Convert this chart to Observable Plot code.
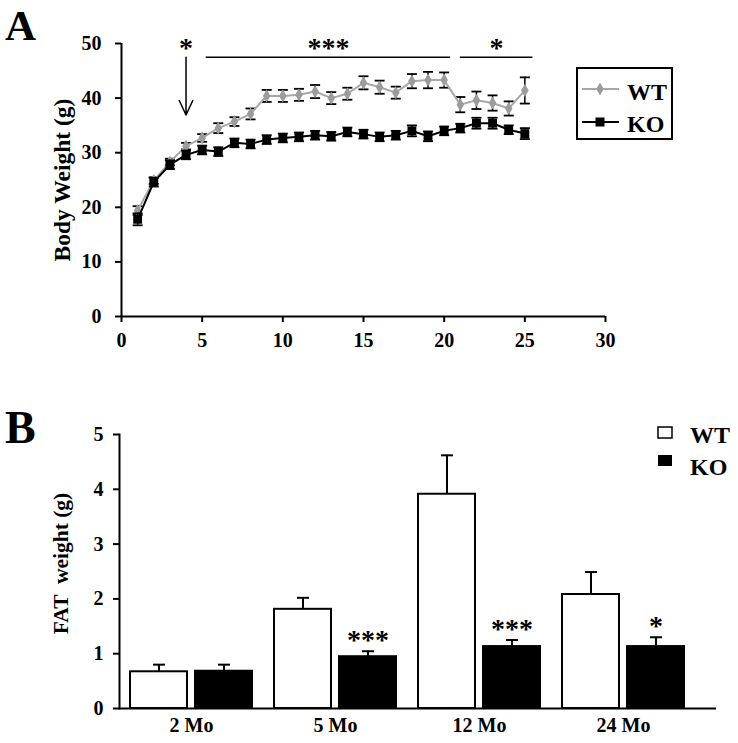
<!DOCTYPE html>
<html><head><meta charset="utf-8">
<script src="https://cdn.jsdelivr.net/npm/d3@7"></script>
<script src="https://cdn.jsdelivr.net/npm/@observablehq/plot@0.6"></script>
<style>
body{margin:0;background:#fff;}
#wrap{position:relative;width:738px;height:743px;overflow:hidden;}
#wrap > svg{position:absolute;left:0;}
#overlay{position:absolute;left:0;top:0;pointer-events:none;}
</style></head><body><div id="wrap"></div>
<script>
// ---------- Panel A data ----------
const weeks  = [1,2,3,4,5,6,7,8,9,10,11,12,13,14,15,16,17,18,19,20,21,22,23,24,25];
const wtMean = [19.4,24.9,28.3,31.2,32.7,34.5,35.7,37.1,40.4,40.4,40.6,41.2,40.0,40.8,42.8,42.0,41.0,43.1,43.3,43.3,38.8,39.6,39.1,38.1,41.4];
const wtErr  = [0.8,0.6,0.6,0.6,0.7,0.9,0.8,1.0,1.1,1.1,1.1,1.2,1.1,1.1,1.2,1.2,1.1,1.3,1.5,1.4,1.4,1.6,1.4,1.3,2.4];
const koMean = [17.8,24.6,27.8,29.6,30.5,30.2,31.8,31.6,32.4,32.7,32.9,33.2,33.0,33.8,33.4,32.9,33.2,34.0,33.0,34.0,34.5,35.4,35.4,34.2,33.5];
const koErr  = [1.1,0.8,0.8,0.8,0.8,0.8,0.8,0.8,0.8,0.8,0.8,0.8,0.8,0.8,0.8,0.8,0.8,1.0,0.9,0.8,0.8,1.0,1.0,0.8,1.0];
const xTicksA = [0,5,10,15,20,25,30];
const yTicksA = [0,10,20,30,40,50];
const sigSpans = [{x1:5.25, x2:20.4, y:47.5, label:"***"}, {x1:21.0, x2:25.5, y:47.5, label:"*"}];
const sigArrow = [{x:4, y1:47.5, y2:36.9, label:"*"}];

// ---------- Panel B data ----------
const ages     = ["2 Mo","5 Mo","12 Mo","24 Mo"];
const fatWT    = [0.67,1.81,3.91,2.08];
const fatWTErr = [0.13,0.21,0.71,0.41];
const fatKO    = [0.68,0.945,1.13,1.13];
const fatKOErr = [0.12,0.10,0.12,0.17];
const fatSig   = ["","***","***","*"];
const yTicksB  = [0,1,2,3,4,5];

const FONT = "'Liberation Serif','Times New Roman',serif";
const cap = {draw(ctx, size){ const w = Math.sqrt(size/Math.PI); ctx.moveTo(-w,0); ctx.lineTo(w,0); }};

const wt = weeks.map((w,i)=>({week:w, m:wtMean[i], e:wtErr[i]}));
const ko = weeks.map((w,i)=>({week:w, m:koMean[i], e:koErr[i]}));

const starStyle = {fontSize:28, lineAnchor:"middle"};

const plotA = Plot.plot({
  width:738, height:370,
  marginLeft:121, marginRight:133, marginTop:43, marginBottom:54,
  style:{fontFamily:FONT, fontWeight:"bold", fontSize:"20px", background:"transparent", overflow:"visible", color:"black"},
  x:{domain:[0,30]}, y:{domain:[0,50]},
  marks:[
    Plot.ruleY([0], {strokeWidth:2}),
    Plot.ruleX([0], {strokeWidth:2}),
    Plot.axisX({ticks:xTicksA, tickSize:6, tickPadding:10, strokeWidth:2, label:null, fontSize:20}),
    Plot.axisY({ticks:yTicksA, tickSize:6, tickPadding:14, strokeWidth:2, label:null, fontSize:20}),
    Plot.text(["Body Weight (g)"], {text:d=>d, frameAnchor:"left", textAnchor:"middle", rotate:-90, dx:-59, fontSize:23.5}),
    // WT
    Plot.ruleX(wt, {x:"week", y1:d=>d.m-d.e, y2:d=>d.m+d.e, stroke:"black", strokeWidth:1.5}),
    Plot.dot(wt, {x:"week", y:d=>d.m+d.e, symbol:cap, r:5, stroke:"black", strokeWidth:1.8, fill:"none"}),
    Plot.dot(wt, {x:"week", y:d=>d.m-d.e, symbol:cap, r:5, stroke:"black", strokeWidth:1.8, fill:"none"}),
    Plot.line(wt, {x:"week", y:"m", stroke:"#a8a8a8", strokeWidth:2}),
    Plot.dot(wt, {x:"week", y:"m", symbol:"diamond", r:4, fill:"#9c9c9c", stroke:"none"}),
    // KO
    Plot.ruleX(ko, {x:"week", y1:d=>d.m-d.e, y2:d=>d.m+d.e, stroke:"black", strokeWidth:1.5}),
    Plot.dot(ko, {x:"week", y:d=>d.m+d.e, symbol:cap, r:5, stroke:"black", strokeWidth:1.8, fill:"none"}),
    Plot.dot(ko, {x:"week", y:d=>d.m-d.e, symbol:cap, r:5, stroke:"black", strokeWidth:1.8, fill:"none"}),
    Plot.line(ko, {x:"week", y:"m", stroke:"black", strokeWidth:2}),
    Plot.dot(ko, {x:"week", y:"m", symbol:"square", r:5, fill:"black", stroke:"none"}),
    // significance
    Plot.ruleY(sigSpans, {y:"y", x1:"x1", x2:"x2", strokeWidth:1.5}),
    Plot.text(sigSpans, {x:d=>(d.x1+d.x2)/2, y:"y", text:"label", dy:-9, ...starStyle}),
    Plot.arrow(sigArrow, {x:"x", y1:"y1", y2:"y2", headLength:16, headAngle:50, strokeWidth:1.5, stroke:"black"}),
    Plot.text(sigArrow, {x:"x", y:"y1", text:"label", dy:-9, ...starStyle})
  ]
});
plotA.style.top = "0px";

const fat = ages.map((a,i)=>({age:a, wt:fatWT[i], wtE:fatWTErr[i], ko:fatKO[i], koE:fatKOErr[i], sig:fatSig[i]}));
const OFF = 32.5;
const plotB = Plot.plot({
  width:738, height:363,
  marginLeft:119, marginRight:22, marginTop:54, marginBottom:35,
  style:{fontFamily:FONT, fontWeight:"bold", fontSize:"20px", background:"transparent", overflow:"visible", color:"black"},
  x:{domain:ages, range:[119,695], paddingInner:0.1528, paddingOuter:0.0764, align:0.5},
  y:{domain:[0,5]},
  marks:[
    Plot.barY(fat, {x:"age", y:"wt", fill:"white", stroke:"black", strokeWidth:2, insetRight:65}),
    Plot.barY(fat, {x:"age", y:"ko", fill:"black", stroke:"black", strokeWidth:2, insetLeft:65}),
    Plot.ruleX(fat, {x:"age", y1:"wt", y2:d=>d.wt+d.wtE, dx:-OFF, strokeWidth:2}),
    Plot.dot(fat, {x:"age", y:d=>d.wt+d.wtE, dx:-OFF, symbol:cap, r:6, stroke:"black", strokeWidth:2, fill:"none"}),
    Plot.ruleX(fat, {x:"age", y1:"ko", y2:d=>d.ko+d.koE, dx:OFF, strokeWidth:2}),
    Plot.dot(fat, {x:"age", y:d=>d.ko+d.koE, dx:OFF, symbol:cap, r:6, stroke:"black", strokeWidth:2, fill:"none"}),
    Plot.text(fat, {x:"age", y:d=>d.ko+d.koE, text:"sig", dx:OFF, dy:-11, ...starStyle}),
    Plot.ruleY([0], {strokeWidth:2}),
    Plot.frame({anchor:"left", strokeWidth:2}),
    Plot.axisX({tickSize:0, tickPadding:9, label:null, fontSize:20}),
    Plot.axisY({ticks:yTicksB, tickSize:6, tickPadding:10, strokeWidth:2, label:null, fontSize:20, tickFormat:"d"}),
    Plot.text(["FAT  weight (g)"], {text:d=>d, frameAnchor:"left", textAnchor:"middle", rotate:-90, dx:-58, dy:-8, fontSize:21.5})
  ]
});
plotB.style.top = "380px";

const wrap = document.getElementById("wrap");
wrap.appendChild(plotA);
wrap.appendChild(plotB);

// overlay: panel letters and legends
const ov = d3.select(wrap).append("svg").attr("id","overlay").attr("width",738).attr("height",743)
  .style("font-family", FONT).style("font-weight","bold");
ov.append("text").attr("x",5).attr("y",40).attr("font-size",43).text("A");
ov.append("text").attr("x",5).attr("y",443).attr("font-size",46).text("B");
// legend A
ov.append("rect").attr("x",577).attr("y",68).attr("width",95).attr("height",71).attr("fill","none").attr("stroke","black").attr("stroke-width",2);
ov.append("line").attr("x1",582).attr("x2",619).attr("y1",89).attr("y2",89).attr("stroke","#a8a8a8").attr("stroke-width",2);
ov.append("path").attr("d", d3.symbol(d3.symbolDiamond, 50)()).attr("transform","translate(600,89)").attr("fill","#9c9c9c");
ov.append("text").attr("x",627).attr("y",100).attr("font-size",24).text("WT");
ov.append("line").attr("x1",582).attr("x2",619).attr("y1",122).attr("y2",122).attr("stroke","black").attr("stroke-width",2);
ov.append("rect").attr("x",595.5).attr("y",117.5).attr("width",9).attr("height",9).attr("fill","black");
ov.append("text").attr("x",627).attr("y",131.5).attr("font-size",24).text("KO");
// legend B
ov.append("rect").attr("x",658).attr("y",427).attr("width",14).attr("height",11).attr("fill","white").attr("stroke","black").attr("stroke-width",1.5);
ov.append("text").attr("x",690).attr("y",443).attr("font-size",24).text("WT");
ov.append("rect").attr("x",658).attr("y",455).attr("width",14).attr("height",11).attr("fill","black");
ov.append("text").attr("x",690).attr("y",475).attr("font-size",24).text("KO");
</script>
</body></html>
